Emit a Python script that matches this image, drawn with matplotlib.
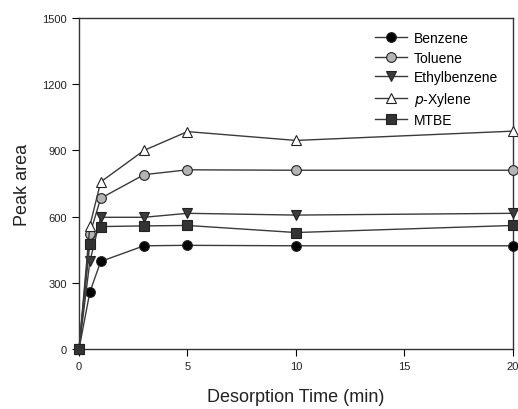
import numpy as np
from matplotlib import pyplot as plt

plt.rcParams['font.family'] = ['Liberation Sans', 'DejaVu Sans']

time_min = [0, 0.5, 1, 3, 5, 10, 20]
benzene = [0, 258, 397, 468, 470, 468, 468]
toluene = [0, 520, 683, 790, 812, 810, 810]
ethylbenzene = [0, 397, 597, 597, 615, 607, 615]
p_xylene = [0, 558, 757, 900, 985, 945, 987]
mtbe = [0, 477, 555, 558, 560, 528, 560]

series = [
    ('Benzene', benzene, 'o', '#000000'),
    ('Toluene', toluene, 'o', '#b4b4b4'),
    ('Ethylbenzene', ethylbenzene, 'v', '#3c3c3c'),
    ('$\\it{p}$-Xylene', p_xylene, '^', '#ffffff'),
    ('MTBE', mtbe, 's', '#333333'),
]

fig = plt.figure(figsize=(5.18, 4.10), dpi=100)
ax = fig.add_axes([0.1525, 0.146, 0.8375, 0.808])

for name, vals, mk, fc in series:
    ax.plot(time_min, vals, color='#3a3a3a', lw=1.0, marker=mk, markersize=7,
            markerfacecolor=fc, markeredgecolor='#222222', markeredgewidth=0.8,
            label=name, clip_on=False, zorder=3)

ax.set_xlim(0, 20)
ax.set_ylim(0, 1500)
ax.set_xticks([0, 5, 10, 15, 20])
ax.set_yticks([0, 300, 600, 900, 1200, 1500])
ax.tick_params(direction='out', labelsize=8, length=5, width=0.8, top=False, right=False,
               labelcolor='#222222')
for s in ax.spines.values():
    s.set_linewidth(1.0)
    s.set_color('#333333')

ax.set_xlabel('Desorption Time (min)', fontsize=13, labelpad=12, color='#222222')
ax.set_ylabel('Peak area', fontsize=13, labelpad=8, color='#222222')

ax.legend(loc='upper left', bbox_to_anchor=(0.682, 0.96), frameon=False, fontsize=10,
          handlelength=2.3, handletextpad=0.5, labelspacing=0.4,
          borderaxespad=0, borderpad=0)

fig.savefig('out.png', dpi=100)
